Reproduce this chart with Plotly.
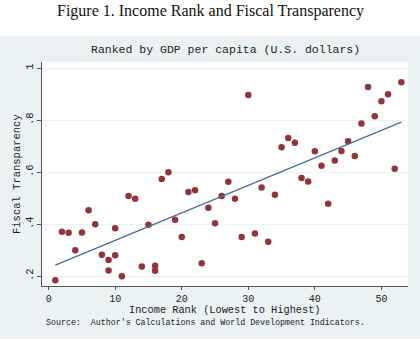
import numpy as np
import plotly.graph_objects as go

# ---- data ----
income_rank = [1, 2, 3, 4, 5, 6, 7, 8, 9, 9, 10, 10, 11, 12, 13, 14, 15, 16, 16, 17,
               18, 19, 20, 21, 22, 23, 24, 25, 26, 27, 28, 29, 30, 31, 32, 33, 34, 35,
               36, 37, 38, 39, 40, 41, 42, 43, 44, 45, 46, 47, 48, 49, 50, 51, 52, 53]
fiscal_transparency = [0.185, 0.372, 0.368, 0.300, 0.369, 0.454, 0.400, 0.283, 0.263, 0.223,
                       0.281, 0.385, 0.200, 0.509, 0.498, 0.238, 0.398, 0.241, 0.222, 0.574,
                       0.600, 0.418, 0.351, 0.524, 0.531, 0.250, 0.464, 0.404, 0.509, 0.564,
                       0.498, 0.351, 0.897, 0.365, 0.542, 0.333, 0.514, 0.696, 0.732, 0.714,
                       0.578, 0.565, 0.681, 0.625, 0.479, 0.645, 0.682, 0.719, 0.663, 0.788,
                       0.928, 0.815, 0.873, 0.900, 0.614, 0.946]
x_ticks = [0, 10, 20, 30, 40, 50]
y_ticks = [0.2, 0.4, 0.6, 0.8, 1.0]
y_tick_labels = [".2", ".4", ".6", ".8", "1"]

title_text = "Figure 1. Income Rank and Fiscal Transparency"
subtitle_text = "Ranked by GDP per capita (U.S. dollars)"
x_title = "Income Rank (Lowest to Highest)"
y_title = "Fiscal Transparency"
source_text = "Source:  Author's Calculations and World Development Indicators."

# linear fit
xr = np.array(income_rank, dtype=float)
yr = np.array(fiscal_transparency, dtype=float)
slope, intercept = np.polyfit(xr, yr, 1)
fit_x = [xr.min(), xr.max()]
fit_y = [intercept + slope * v for v in fit_x]

W, H = 420, 341
L, R, T, B = 42, 12, 62, 55
plot_h = H - T - B
plot_w = W - L - R


def py(px):
    return (H - B - px) / plot_h


def pxx(px):
    return (px - L) / plot_w


BG = "#EAF2F3"
MONO = "Liberation Mono, Courier New, monospace"
TXT = "#222222"

fig = go.Figure()
fig.add_trace(go.Scatter(x=income_rank, y=fiscal_transparency, mode="markers",
                         marker=dict(color="#90353B", size=6.5, line=dict(width=0)),
                         showlegend=False, hoverinfo="skip"))
fig.add_trace(go.Scatter(x=fit_x, y=fit_y, mode="lines",
                         line=dict(color="#4A6E98", width=1.3),
                         showlegend=False, hoverinfo="skip"))

fig.update_layout(
    width=W, height=H,
    margin=dict(l=L, r=R, t=T, b=B),
    paper_bgcolor=BG,
    plot_bgcolor="white",
    font=dict(family=MONO, size=10.5, color=TXT),
    shapes=[
        dict(type="rect", xref="paper", yref="paper", x0=pxx(-5), x1=pxx(W + 5),
             y0=py(36), y1=py(-5), fillcolor="white", line=dict(width=0), layer="below"),
        dict(type="rect", xref="paper", yref="paper", x0=pxx(-5), x1=pxx(W + 5),
             y0=py(H + 5), y1=py(339), fillcolor="white", line=dict(width=0), layer="below"),
    ],
    annotations=[
        dict(text=title_text, xref="paper", yref="paper", x=pxx(210), y=py(11),
             xanchor="center", yanchor="middle", showarrow=False,
             font=dict(family="Liberation Serif, Times New Roman, serif", size=16, color="#111111")),
        dict(text=subtitle_text, xref="paper", yref="paper", x=pxx(225), y=py(50),
             xanchor="center", yanchor="middle", showarrow=False,
             font=dict(family=MONO, size=11.5, color=TXT)),
        dict(text=x_title, xref="paper", yref="paper", x=pxx(225), y=py(310),
             xanchor="center", yanchor="middle", showarrow=False,
             font=dict(family=MONO, size=10.3, color=TXT)),
        dict(text=y_title, xref="paper", yref="paper", x=pxx(17), y=py(174),
             xanchor="center", yanchor="middle", showarrow=False, textangle=-90,
             font=dict(family=MONO, size=10.5, color=TXT)),
        dict(text=source_text, xref="paper", yref="paper", x=pxx(44), y=py(322.5),
             xanchor="left", yanchor="middle", showarrow=False,
             font=dict(family=MONO, size=8.3, color=TXT)),
    ],
)

fig.update_xaxes(range=[-1.0, 54.0], tickvals=x_ticks, ticks="outside", ticklen=3,
                 tickcolor="#555555", showline=True, linecolor="#555555", linewidth=1,
                 showgrid=False, zeroline=False, tickfont=dict(size=10))
fig.update_yaxes(range=[0.163, 1.024], tickvals=y_ticks, ticktext=y_tick_labels,
                 tickangle=-90, ticks="outside", ticklen=4, tickcolor="#555555",
                 showline=True, linecolor="#555555", linewidth=1,
                 showgrid=True, gridcolor=BG, gridwidth=1, zeroline=False,
                 tickfont=dict(size=10.5))

fig.write_html("out.html")
